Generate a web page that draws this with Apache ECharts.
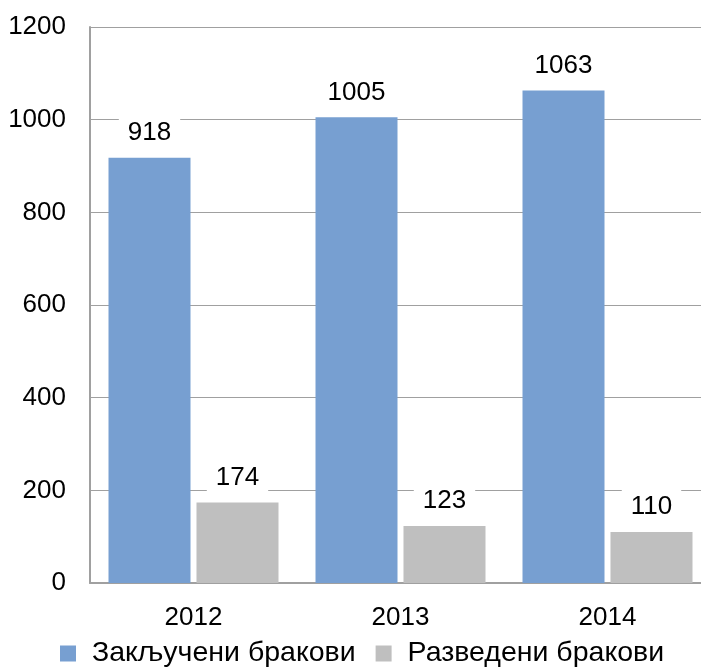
<!DOCTYPE html>
<html><head><meta charset="utf-8">
<script src="https://cdn.jsdelivr.net/npm/echarts@6/dist/echarts.min.js"></script>
<style>html,body{margin:0;padding:0;background:#fff}#c{width:701px;height:669px}</style>
</head><body><div id="c"></div>
<script>
var categories = ['2012', '2013', '2014'];
var seriesNames = ['Закључени бракови', 'Разведени бракови'];
var married = [918, 1005, 1063];
var divorced = [174, 123, 110];
var yTicks = [0, 200, 400, 600, 800, 1000, 1200];

var font = 'Arial, "Liberation Sans", sans-serif';
var labelCfg = {
  show: true, position: 'top', distance: 9,
  color: '#000', fontFamily: font, fontSize: 26,
  backgroundColor: '#fff', padding: [4, 9, 3, 9]
};
var chart = echarts.init(document.getElementById('c'), null, {renderer: 'canvas'});
chart.setOption({
  animation: false,
  grid: {left: 90, top: 27, right: -10, bottom: 86, containLabel: false, outerBoundsMode: 'none'},
  legend: {
    data: seriesNames, bottom: -4, left: 55, itemWidth: 16, itemHeight: 16, itemGap: 20,
    icon: 'rect',
    textStyle: {fontFamily: font, fontSize: 28.5, color: '#000', padding: [0, 0, 0, 11]}
  },
  xAxis: {
    type: 'category', data: categories,
    axisLine: {lineStyle: {color: '#a0a0a0', width: 2}},
    axisTick: {show: false},
    axisLabel: {fontFamily: font, fontSize: 26, color: '#000', margin: 22}
  },
  yAxis: {
    type: 'value', min: yTicks[0], max: yTicks[yTicks.length - 1], interval: 200,
    axisLine: {show: true, lineStyle: {color: '#a0a0a0', width: 2}},
    axisTick: {show: false},
    axisLabel: {fontFamily: font, fontSize: 26, color: '#000', margin: 24,
      formatter: function (v) { return String(v); }},
    splitLine: {lineStyle: {color: '#a0a0a0', width: 1}}
  },
  series: [
    {name: seriesNames[0], type: 'bar', data: married, barWidth: 82, barGap: '7.3%',
     itemStyle: {color: '#779FD1'}, label: labelCfg},
    {name: seriesNames[1], type: 'bar', data: divorced, barWidth: 82,
     itemStyle: {color: '#BFBFBF'}, label: labelCfg}
  ]
});
</script></body></html>
